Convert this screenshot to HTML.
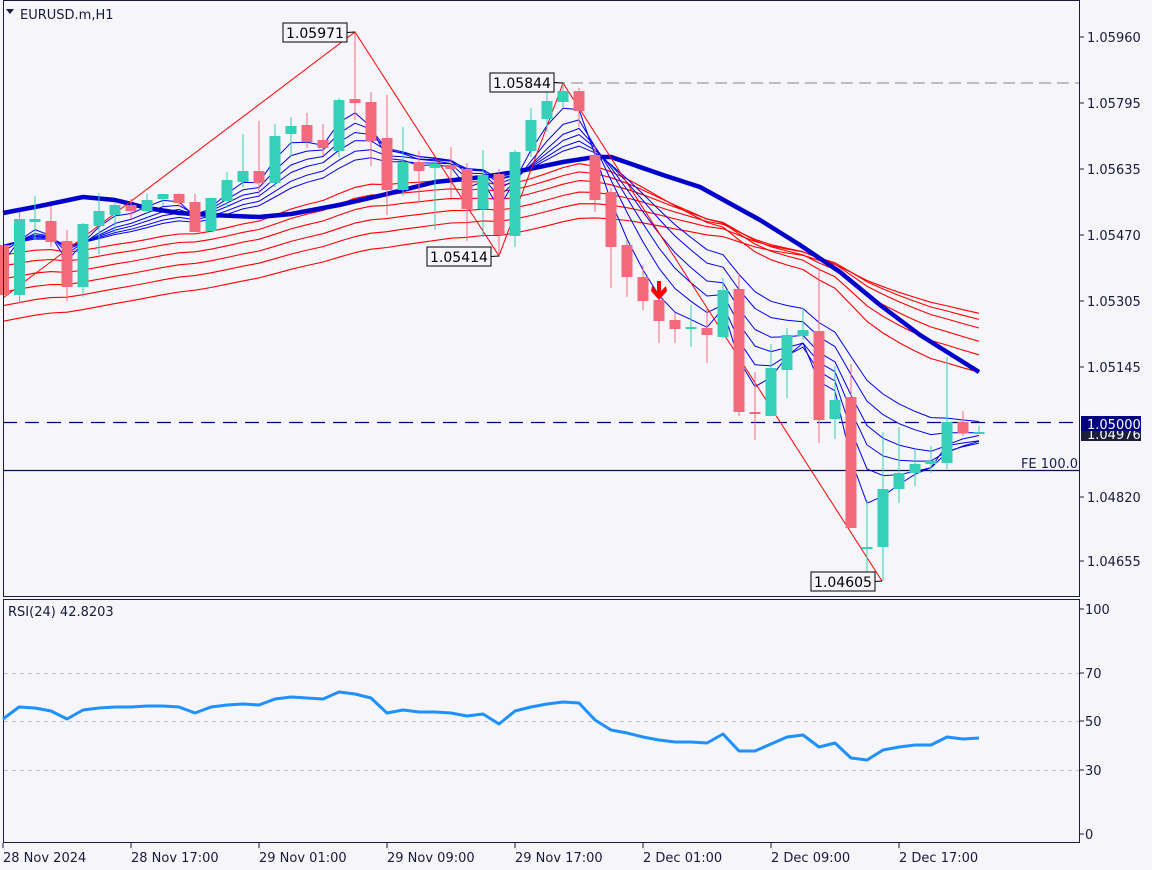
<!DOCTYPE html>
<html><head><meta charset="utf-8"><style>
html,body{margin:0;padding:0;background:#f5f5fa;}
svg{display:block;font-family:Tahoma,"DejaVu Sans","Liberation Sans",sans-serif;}
</style></head><body>
<svg id="s" width="1152" height="870" xmlns="http://www.w3.org/2000/svg">
<rect width="1152" height="870" fill="#f5f5fa"/>
<g id="g"></g>
</svg>
<script>
const C=[
[3.5,245,295,200,298],[19.5,295,219,212,303],[35,222,219,196,240],[51,221,242,206,247],[67,241,287,230,301],
[83,287,224,223,297],[99,226,211,193,254],[115,215,205,202,232],[131,205,211,199,219],[147,211,200,194,213],
[163,199,194,194,206],[179,194,203,193,207],[195,202,232,194,232],[211,231,198,198,231],[227,201,180,172,208],
[243,182,171,134,187],[259,171,183,121,195],[275,183,136,124,187],[291,134,126,117,156],[307,125,142,113,148],
[323,140,148,124,156],[339,151,100,98,157],[355,99,103,32,120],[371,102,141,92,166],[387,138,190,95,215],
[403,190,162,127,196],[419,162,171,151,202],[435,168,164,161,230],[451,165,169,147,200],[467,169,209,163,241],
[483,209,175,150,237],[499,174,235,169,256],[515,236,152,150,247],[531,151,120,108,157],[547,119,101,88,132],
[563,102,91,83,107],[579,91,111,88,127],[595,155,200,146,212],[611,192,247,188,288],[627,245,277,240,297],
[643,277,301,265,310],[659,300,321,297,343],[675,320,329,313,343],[691,328,327,305,347],[707,328,335,308,363],
[723,337,290,278,338],[739,289,412,273,416],[755,412,413,372,440],[771,416,368,344,416],[787,370,335,328,398],
[803,336,330,308,340],[819,331,420,268,443],[835,419,400,366,439],[851,397,528,364,528],[867,549,547,500,575],
[883,547,489,432,581],[899,489,473,427,503],[915,473,464,450,486],[931,464,461,446,473],[947,463,422,357,469],
[963,422,433,411,436],[979,434,432,426,434]];
let h='';
const add=s=>h+=s;
add('<line x1="553" y1="83" x2="1080" y2="83" stroke="#888" stroke-dasharray="12,6"/>');
add('<line x1="3" y1="422.5" x2="1080" y2="422.5" stroke="#00007a" stroke-dasharray="14,8" stroke-width="1.2"/>');
add('<line x1="3" y1="470.5" x2="1080" y2="470.5" stroke="#0b0b50" stroke-width="1.3"/>');
add('<text x="1078" y="468" text-anchor="end" font-size="13" fill="#1a1a50">FE 100.0</text>');
function ema(p,seed){let v=seed,out=[];C.forEach((c,i)=>{const a=2/(p+1);v=v+(c[2]-v)*a;out.push([c[0],v]);});return out;}
function pl(pts,col,w){add('<polyline fill="none" stroke="'+col+'" stroke-width="'+w+'" stroke-linejoin="round" points="'+pts.map(p=>p[0].toFixed(1)+','+p[1].toFixed(1)).join(' ')+'"/>');}
[[28,252],[34,264],[40,278],[48,292],[56,306],[66,322]].forEach(r=>pl(ema(r[0],r[1]),'#ff0000',1.1));
[[3,228],[5,230],[7,232],[9,234],[12,236],[15,238]].forEach(r=>pl(ema(r[0],r[1]),'#0000ee',1));
pl([[3,213],[40,206],[83,197],[115,200],[147,208],[179,213],[211,215],[259,217],[291,214],[339,205],[387,194],[435,182],[483,177],[515,172],[563,162],[595,157],[611,157],[663,175],[700,187],[760,220],[800,245],[840,272],[880,305],[920,335],[979,372]],'#0000cc',4.5);
add('<polyline fill="none" stroke="#ff0000" stroke-width="1" points="3,298 355,32 499,256 563,83 882,581"/>');
C.forEach(c=>{const [x,o,cl,hi,lo]=c;const bull=cl<o;const col=bull?'#35d0b8':'#f6697c';
add('<line x1="'+x+'" y1="'+hi+'" x2="'+x+'" y2="'+lo+'" stroke="'+col+'" stroke-width="1"/>');
const t=Math.min(o,cl),b=Math.max(o,cl);add('<rect x="'+(x-5.5)+'" y="'+t+'" width="11" height="'+Math.max(2,b-t)+'" fill="'+col+'"/>');});
add('<path d="M657,281 L661,281 L661,291 L666,286 L667,291 L659,300 L651,291 L652,286 L657,291Z" fill="#ff0000"/>');
function lab(x,y,t,lx,ly){add('<rect x="'+x+'" y="'+y+'" width="64" height="19" fill="#f5f5fa" stroke="#000"/><text x="'+(x+32)+'" y="'+(y+15)+'" text-anchor="middle" font-size="14" fill="#000">'+t+'</text>');add('<line x1="'+(x+64)+'" y1="'+(y+9.5)+'" x2="'+lx+'" y2="'+ly+'" stroke="#000"/>');}
lab(283,23,'1.05971',355,32);lab(427,247,'1.05414',499,256);lab(490,73,'1.05844',563,83);lab(811,572,'1.04605',882,581);
add('<rect x="3.5" y="0.5" width="1076" height="596" fill="none" stroke="#1a1a3a"/>');
add('<rect x="3.5" y="599.5" width="1076" height="243" fill="none" stroke="#1a1a3a"/>');
add('<path d="M6,9 L14,9 L10,14Z" fill="#1a1a3a"/><text x="20" y="19" font-size="13" fill="#1a1a3a">EURUSD.m,H1</text>');
[[37,'1.05960'],[103,'1.05795'],[169,'1.05635'],[235,'1.05470'],[301,'1.05305'],[367,'1.05145'],[497,'1.04820'],[561,'1.04655']].forEach(a=>{
add('<line x1="1080" y1="'+a[0]+'" x2="1084" y2="'+a[0]+'" stroke="#1a1a3a"/><text x="1087" y="'+(a[0]+5)+'" font-size="13" fill="#1a1a3a">'+a[1]+'</text>');});
add('<rect x="1081" y="427" width="60" height="14" fill="#1b1f3a"/><text x="1087" y="439" font-size="13" fill="#fff">1.04976</text>');
add('<rect x="1081" y="416" width="60" height="15" fill="#000080"/><text x="1087" y="429" font-size="13" fill="#fff">1.05000</text>');
[673,721,770].forEach(y=>add('<line x1="4" y1="'+y+'.5" x2="1079" y2="'+y+'.5" stroke="#c0c0c8" stroke-dasharray="4,4"/>'));
[[609,'100'],[673,'70'],[721,'50'],[770,'30'],[834,'0']].forEach(a=>{add('<line x1="1080" y1="'+a[0]+'" x2="1084" y2="'+a[0]+'" stroke="#1a1a3a"/><text x="1085" y="'+(a[0]+5)+'" font-size="13" fill="#1a1a3a">'+a[1]+'</text>');});
add('<text x="8" y="616" font-size="13" fill="#1a1a3a">RSI(24) 42.8203</text>');
const R=[[3,719],[19,707],[35,708],[51,711],[67,719],[83,710],[99,708],[115,707],[131,707],[147,706],[163,706],[179,707],[195,713],[211,707],[227,705],[243,704],[259,705],[275,699],[291,697],[307,698],[323,699],[339,692],[355,694],[371,698],[387,713],[403,710],[419,712],[435,712],[451,713],[467,716],[483,714],[499,724],[515,711],[531,707],[547,704],[563,702],[579,703],[595,720],[611,730],[627,733],[643,737],[659,740],[675,742],[691,742],[707,743],[723,734],[739,751],[755,751],[771,744],[787,737],[803,735],[819,747],[835,743],[851,758],[867,760],[883,750],[899,747],[915,745],[931,745],[947,737],[963,739],[979,738]];
pl(R,'#1e90ff',3);
[[3,'28 Nov 2024'],[131,'28 Nov 17:00'],[259,'29 Nov 01:00'],[387,'29 Nov 09:00'],[515,'29 Nov 17:00'],[643,'2 Dec 01:00'],[771,'2 Dec 09:00'],[899,'2 Dec 17:00']].forEach(a=>{
add('<line x1="'+a[0]+'" y1="843" x2="'+a[0]+'" y2="848" stroke="#1a1a3a"/><text x="'+a[0]+'" y="862" font-size="13" fill="#1a1a3a">'+a[1]+'</text>');});
document.getElementById('g').innerHTML=h;
</script>
</body></html>
